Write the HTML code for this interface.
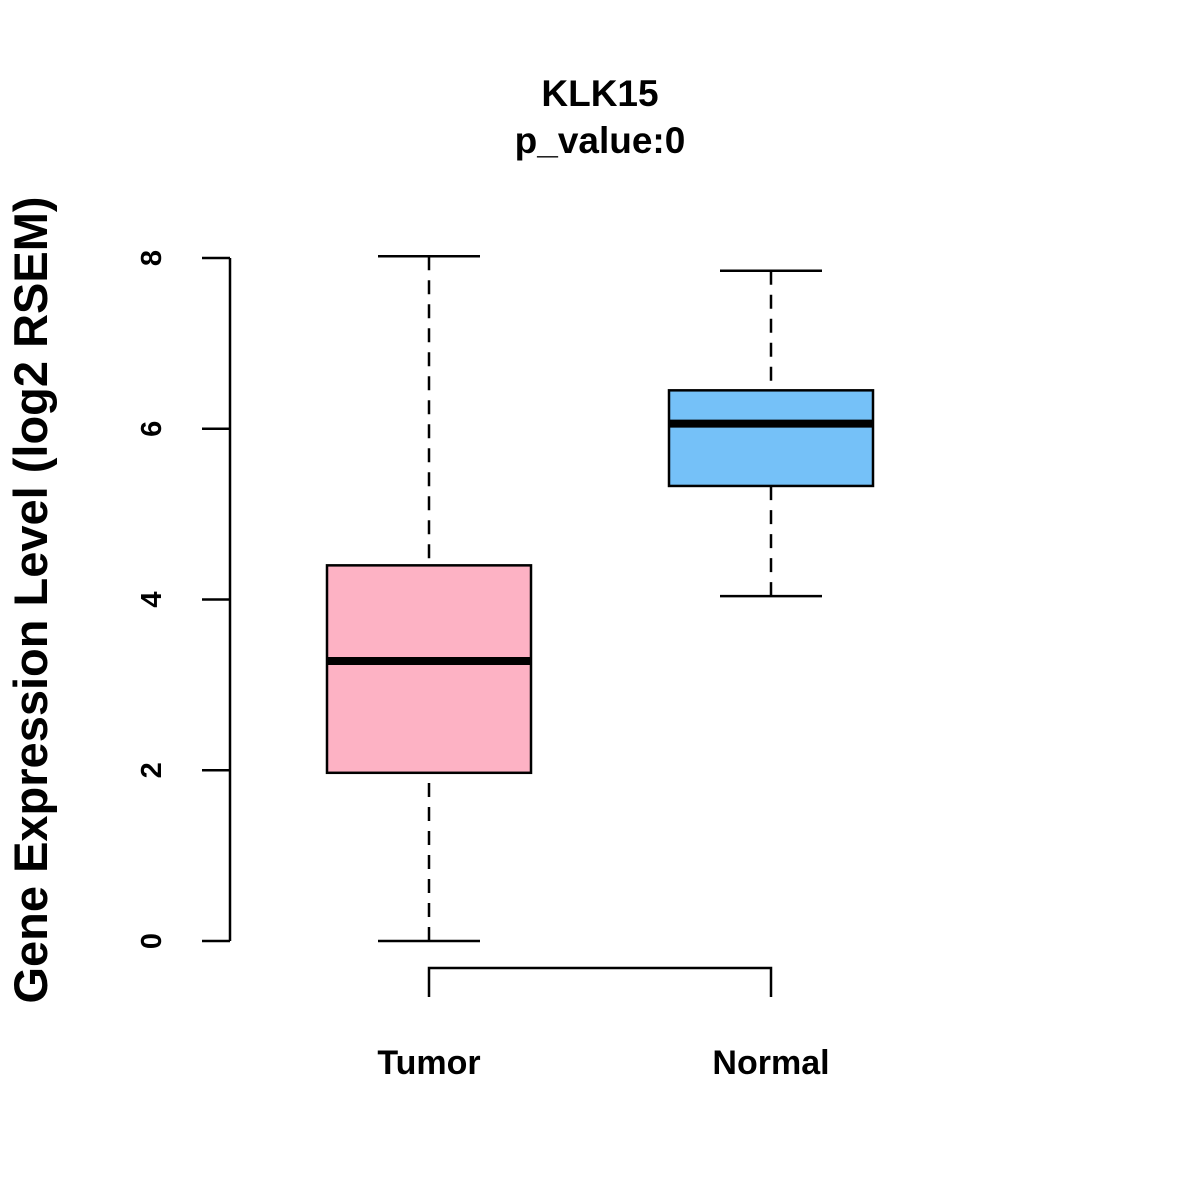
<!DOCTYPE html>
<html><head><meta charset="utf-8"><style>
html,body{margin:0;padding:0;background:#fff;}
svg{display:block;font-family:"Liberation Sans",Arial,sans-serif;}
</style></head><body>
<svg id="chart" width="1200" height="1200" viewBox="0 0 1200 1200" xmlns="http://www.w3.org/2000/svg">
<rect width="1200" height="1200" fill="#fff"/>
<text x="600" y="106" text-anchor="middle" font-size="37" font-weight="bold">KLK15</text>
<text x="600" y="153" text-anchor="middle" font-size="37" font-weight="bold">p_value:0</text>
<text transform="translate(47,600) rotate(-90)" text-anchor="middle" font-size="47" font-weight="bold">Gene Expression Level (log2 RSEM)</text>
<g id="yaxis"></g>
<g id="xaxis"></g>
<g id="boxes"></g>
</svg>
<script>
const categories = ["Tumor", "Normal"];
const mins = [0, 4.04];
const q1s = [1.97, 5.33];
const medians = [3.28, 6.06];
const q3s = [4.40, 6.45];
const maxs = [8.02, 7.85];
const colors = ["#FDB2C4", "#75C1F8"];
const yTicks = [0, 2, 4, 6, 8];

const NS = "http://www.w3.org/2000/svg";
function y(v){ return 941 - v * 85.375; }
function x(i){ return 429 + i * 342; }
function mk(tag, attrs, parent){
  const e = document.createElementNS(NS, tag);
  for (const k in attrs) e.setAttribute(k, attrs[k]);
  parent.appendChild(e);
  return e;
}
const ya = document.getElementById('yaxis');
let l = mk('line', {x1:230, x2:230, y1:y(yTicks[0]), y2:y(yTicks[yTicks.length-1]), stroke:'#000', 'stroke-width':2.5}, ya);


yTicks.forEach(t => {
  const tk = mk('line', {x1:202, x2:230, y1:y(t), y2:y(t), stroke:'#000', 'stroke-width':2.5}, ya);
  
  
  const tx = mk('text', {transform:`translate(161,${y(t)}) rotate(-90)`, 'text-anchor':'middle', 'font-size':29, 'font-weight':'bold'}, ya);
  tx.textContent = t;
  
  
});
const xa = document.getElementById('xaxis');
const xl = mk('path', {d:`M${x(0)},997 V968 H${x(categories.length-1)} V997`, fill:'none', stroke:'#000', 'stroke-width':2.5}, xa);


categories.forEach((c, i) => {
  const tx = mk('text', {x:x(i), y:1074, 'text-anchor':'middle', 'font-size':34, 'font-weight':'bold'}, xa);
  tx.textContent = c;
  
  
});
const bx = document.getElementById('boxes');
categories.forEach((c, i) => {
  const g = mk('g', {}, bx);
  
  
  const cx = x(i);
  mk('line', {x1:cx, x2:cx, y1:y(maxs[i]), y2:y(q3s[i]), stroke:'#000', 'stroke-width':2.5, 'stroke-dasharray':'14,10'}, g);
  mk('line', {x1:cx, x2:cx, y1:y(mins[i]), y2:y(q1s[i]), stroke:'#000', 'stroke-width':2.5, 'stroke-dasharray':'14,10'}, g);
  mk('line', {x1:cx-51, x2:cx+51, y1:y(maxs[i]), y2:y(maxs[i]), stroke:'#000', 'stroke-width':2.5}, g);
  mk('line', {x1:cx-51, x2:cx+51, y1:y(mins[i]), y2:y(mins[i]), stroke:'#000', 'stroke-width':2.5}, g);
  mk('rect', {x:cx-102, width:204, y:y(q3s[i]), height:y(q1s[i])-y(q3s[i]), fill:colors[i], stroke:'#000', 'stroke-width':2.5}, g);
  mk('line', {x1:cx-102, x2:cx+102, y1:y(medians[i]), y2:y(medians[i]), stroke:'#000', 'stroke-width':8}, g);
});
</script>
</body></html>
